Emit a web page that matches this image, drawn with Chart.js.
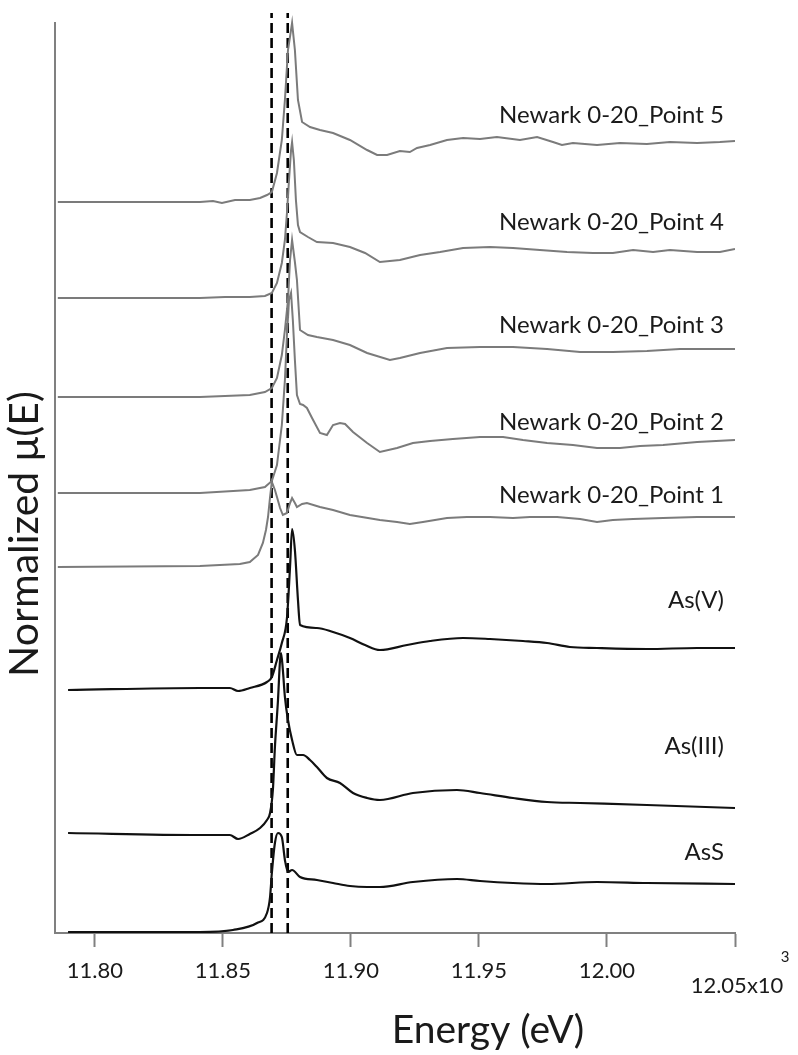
<!DOCTYPE html>
<html>
<head>
<meta charset="utf-8">
<title>As K-edge XANES</title>
<script src="https://cdn.jsdelivr.net/npm/chart.js@4.4.0/dist/chart.umd.min.js"></script>
<style>
  html, body { margin: 0; padding: 0; background: #fff; }
  #wrap { width: 798px; height: 1055px; }
</style>
</head>
<body>
<div id="wrap"><canvas id="xanes" width="798" height="1055"></canvas></div>
<script>
// energy in eV, mu in stacked (offset) normalized units
const p5E  = [11785.5,11841.0,11846.1,11849.6,11854.7,11860.5,11864.5,11867.2,11869.1,11871.1,11873.0,11874.2,11875.4,11877.0,11878.1,11879.3,11880.9,11884.0,11887.9,11893.0,11899.6,11906.3,11910.2,11914.1,11919.1,11923.0,11925.8,11930.9,11937.5,11943.8,11950.4,11957.0,11966.0,11972.7,11978.9,11982.4,11986.7,11996.1,12005.1,12015.6,12024.6,12035.2,12044.1,12050.0];
const p5Mu = [7.31,7.31,7.32,7.30,7.33,7.33,7.35,7.38,7.41,7.60,7.93,8.33,8.83,9.10,8.83,8.33,8.11,8.06,8.03,8.00,7.93,7.83,7.78,7.78,7.82,7.81,7.85,7.88,7.93,7.95,7.94,7.96,7.93,7.96,7.91,7.88,7.90,7.88,7.90,7.89,7.91,7.90,7.91,7.92];

const p4E  = [11785.5,11841.0,11850.8,11860.5,11866.4,11869.1,11871.1,11873.0,11874.2,11875.0,11875.8,11876.6,11877.0,11877.7,11878.5,11879.3,11880.1,11883.2,11886.7,11893.0,11899.6,11905.5,11911.3,11919.1,11927.0,11934.8,11943.8,11954.3,11963.3,11973.8,11984.4,11994.5,12002.3,12010.2,12018.0,12024.6,12035.2,12044.1,12050.0];
const p4Mu = [6.35,6.35,6.36,6.36,6.37,6.40,6.50,6.70,6.93,7.20,7.53,7.83,7.91,7.73,7.33,7.08,7.01,6.96,6.91,6.90,6.86,6.80,6.71,6.73,6.78,6.81,6.85,6.86,6.85,6.83,6.81,6.80,6.80,6.83,6.81,6.83,6.81,6.81,6.84];

const p3E  = [11785.5,11841.0,11860.5,11866.4,11869.1,11871.1,11873.0,11874.2,11875.4,11876.2,11877.0,11878.1,11878.9,11880.1,11883.2,11886.7,11893.0,11899.6,11906.3,11915.2,11919.1,11927.0,11937.5,11950.4,11963.3,11976.6,11989.5,12002.3,12015.6,12028.5,12050.0];
const p3Mu = [5.36,5.36,5.38,5.41,5.45,5.55,5.78,6.03,6.33,6.73,6.93,6.71,6.53,6.03,5.98,5.96,5.93,5.88,5.80,5.73,5.75,5.80,5.85,5.86,5.86,5.84,5.81,5.81,5.82,5.84,5.84];

const p2E  = [11785.5,11841.0,11860.5,11866.4,11869.1,11871.1,11873.0,11874.2,11875.0,11875.8,11876.6,11877.3,11878.1,11878.9,11880.1,11881.3,11882.8,11884.8,11887.9,11890.6,11893.0,11895.7,11897.7,11900.8,11906.3,11911.3,11918.0,11924.2,11930.9,11939.8,11950.4,11959.4,11967.2,11976.6,11986.7,11996.1,12005.1,12012.9,12021.9,12035.2,12050.0];
const p2Mu = [4.40,4.40,4.43,4.46,4.52,4.68,5.08,5.53,5.98,6.33,6.40,6.13,5.73,5.38,5.29,5.28,5.25,5.15,5.00,4.98,5.08,5.10,5.09,5.01,4.90,4.81,4.85,4.90,4.92,4.94,4.96,4.96,4.93,4.90,4.88,4.85,4.85,4.87,4.88,4.91,4.93];

const p1E  = [11785.5,11841.0,11856.6,11860.5,11863.7,11865.6,11866.8,11867.6,11868.4,11869.1,11870.3,11871.1,11872.3,11873.4,11875.0,11876.2,11877.0,11878.1,11878.9,11880.9,11882.8,11887.9,11893.0,11899.6,11911.3,11918.0,11923.0,11928.1,11937.5,11945.3,11954.3,11963.3,11969.9,11980.5,11989.5,11996.1,12002.3,12010.2,12021.9,12035.2,12050.0];
const p1Mu = [3.66,3.67,3.69,3.71,3.78,3.90,4.03,4.16,4.36,4.51,4.43,4.36,4.25,4.18,4.20,4.30,4.35,4.30,4.26,4.29,4.30,4.26,4.23,4.18,4.13,4.11,4.09,4.11,4.15,4.16,4.16,4.15,4.16,4.16,4.14,4.11,4.13,4.14,4.15,4.16,4.16];

const asVE  = [11789.5,11841.0,11852.7,11855.9,11860.5,11867.2,11869.1,11871.1,11873.0,11875.0,11876.2,11877.0,11878.1,11879.3,11880.1,11886.7,11893.0,11899.6,11905.5,11911.3,11921.9,11930.9,11943.8,11954.3,11967.2,11976.6,11985.5,11996.1,12015.6,12035.2,12050.0];
const asVMu = [2.43,2.45,2.45,2.42,2.45,2.51,2.56,2.73,2.90,3.15,3.66,4.04,3.83,3.33,3.08,3.05,3.01,2.95,2.88,2.83,2.88,2.92,2.95,2.94,2.92,2.90,2.86,2.85,2.84,2.85,2.85];

const asIIIE  = [11789.5,11841.0,11852.7,11855.9,11860.5,11864.5,11867.2,11868.4,11869.5,11870.3,11871.5,11872.3,11872.7,11873.4,11874.2,11875.4,11877.0,11878.9,11881.3,11884.0,11886.7,11890.6,11895.7,11900.8,11906.3,11911.3,11924.2,11941.4,11950.4,11963.3,11976.6,11989.5,12015.6,12050.0];
const asIIIMu = [1.00,0.98,0.98,0.94,0.99,1.05,1.13,1.20,1.43,1.86,2.33,2.73,2.80,2.63,2.36,2.13,1.93,1.78,1.78,1.73,1.66,1.55,1.50,1.40,1.35,1.33,1.40,1.43,1.40,1.35,1.31,1.30,1.28,1.25];

const asSE  = [11789.5,11841.0,11853.9,11863.3,11867.2,11868.4,11869.1,11870.3,11871.5,11873.0,11874.2,11875.4,11877.0,11880.1,11886.7,11893.0,11899.6,11906.3,11911.3,11924.2,11941.4,11950.4,11963.3,11976.6,11996.1,12015.6,12050.0];
const asSMu = [0.01,0.01,0.03,0.10,0.20,0.36,0.60,0.90,1.00,0.96,0.73,0.61,0.63,0.56,0.53,0.50,0.47,0.46,0.46,0.51,0.54,0.52,0.50,0.49,0.51,0.50,0.49];

const seriesNames = ['Newark 0-20_Point 5','Newark 0-20_Point 4','Newark 0-20_Point 3','Newark 0-20_Point 2','Newark 0-20_Point 1','As(V)','As(III)','AsS'];
const edgeMarkers = [11869.0, 11875.3];   // dashed reference energies (eV)
const xTicks = [11800, 11850, 11900, 11950, 12000, 12050];
const xMin = 11784.4, xMax = 12050;
const yMin = 0, yMax = 9.2, yAxisTop = 9.11;

const sampleColor = '#7b7b7b';
const standardColor = '#111111';
const textColor = '#1a1a1a';

function pts(e, mu) { return e.map((v, i) => ({ x: v, y: mu[i] })); }

const spectra = [
  [p5E, p5Mu], [p4E, p4Mu], [p3E, p3Mu], [p2E, p2Mu], [p1E, p1Mu],
  [asVE, asVMu], [asIIIE, asIIIMu], [asSE, asSMu]
];

// how far (px) each name sits above the end of its trace
const labelLift = [26, 27, 24, 18, 22, 48, 62, 32];

const datasets = spectra.map((s, i) => ({
  label: seriesNames[i],
  data: pts(s[0], s[1]),
  borderColor: i < 5 ? sampleColor : standardColor,
  borderWidth: i < 5 ? 2 : 2.2,
  pointRadius: 0,
  tension: 0,
  cubicInterpolationMode: i < 5 ? 'default' : 'monotone',
  fill: false
}));

edgeMarkers.forEach(e => {
  datasets.push({
    label: 'edge ' + e,
    data: [{ x: e, y: yMin }, { x: e, y: yMax }],
    borderColor: '#000',
    borderWidth: 2.6,
    borderDash: [10, 5],
    pointRadius: 0,
    fill: false
  });
});

const annotate = {
  id: 'annotate',
  afterDatasetsDraw(chart) {
    const { ctx, scales: { x, y } } = chart;
    const right = x.getPixelForValue(xMax) - 11;
    ctx.save();
    ctx.fillStyle = textColor;
    ctx.font = '24px Lato';
    ctx.textAlign = 'right';
    ctx.textBaseline = 'middle';
    spectra.forEach((s, i) => {
      const last = s[1][s[1].length - 1];
      ctx.fillText(seriesNames[i], right, y.getPixelForValue(last) - labelLift[i]);
    });
    ctx.restore();
  },
  afterDraw(chart) {
    const { ctx, chartArea, scales: { x, y } } = chart;
    ctx.save();
    // y axis line (stops a little below the dashed markers)
    ctx.strokeStyle = '#808080';
    ctx.lineWidth = 2;
    ctx.beginPath();
    ctx.moveTo(chartArea.left, y.getPixelForValue(yAxisTop));
    ctx.lineTo(chartArea.left, chartArea.bottom);
    ctx.stroke();

    // last tick carries the x10^3 multiplier
    const px = x.getPixelForValue(xTicks[xTicks.length - 1]);
    ctx.fillStyle = textColor;
    ctx.textAlign = 'center';
    ctx.textBaseline = 'middle';
    ctx.font = '22px Lato';
    ctx.fillText('12.05x10', px + 2, chartArea.bottom + 53);
    ctx.font = '15px Lato';
    ctx.fillText('3', px + 50, chartArea.bottom + 24);

    // axis titles
    ctx.font = '39px Lato';
    ctx.fillText('Energy (eV)', 488, chartArea.bottom + 97);
    ctx.translate(25, 534);
    ctx.rotate(-Math.PI / 2);
    ctx.font = '41px Lato';
    ctx.fillText('Normalized μ(E)', 0, 0);
    ctx.restore();
  }
};

new Chart(document.getElementById('xanes'), {
  type: 'line',
  data: { datasets },
  plugins: [annotate],
  options: {
    responsive: false,
    devicePixelRatio: 1,
    animation: false,
    parsing: false,
    layout: { padding: { top: 13, right: 63, left: 0, bottom: 0 } },
    plugins: { legend: { display: false }, tooltip: { enabled: false } },
    scales: {
      x: {
        type: 'linear',
        min: xMin,
        max: xMax,
        afterBuildTicks: scale => { scale.ticks = xTicks.map(v => ({ value: v })); },
        afterFit: scale => { scale.height = 122; },
        ticks: {
          autoSkip: false,
          maxRotation: 0,
          padding: 11,
          color: textColor,
          font: { family: 'Lato', size: 22 },
          callback: v => v === xTicks[xTicks.length - 1] ? '' : (v / 1000).toFixed(2)
        },
        grid: { drawOnChartArea: false, tickLength: 14, tickColor: '#808080', tickWidth: 2 },
        border: { color: '#808080', width: 2 }
      },
      y: {
        min: yMin,
        max: yMax,
        afterFit: scale => { scale.width = 55; },
        ticks: { display: false },
        grid: { display: false },
        border: { display: false }
      }
    }
  }
});
</script>
</body>
</html>
